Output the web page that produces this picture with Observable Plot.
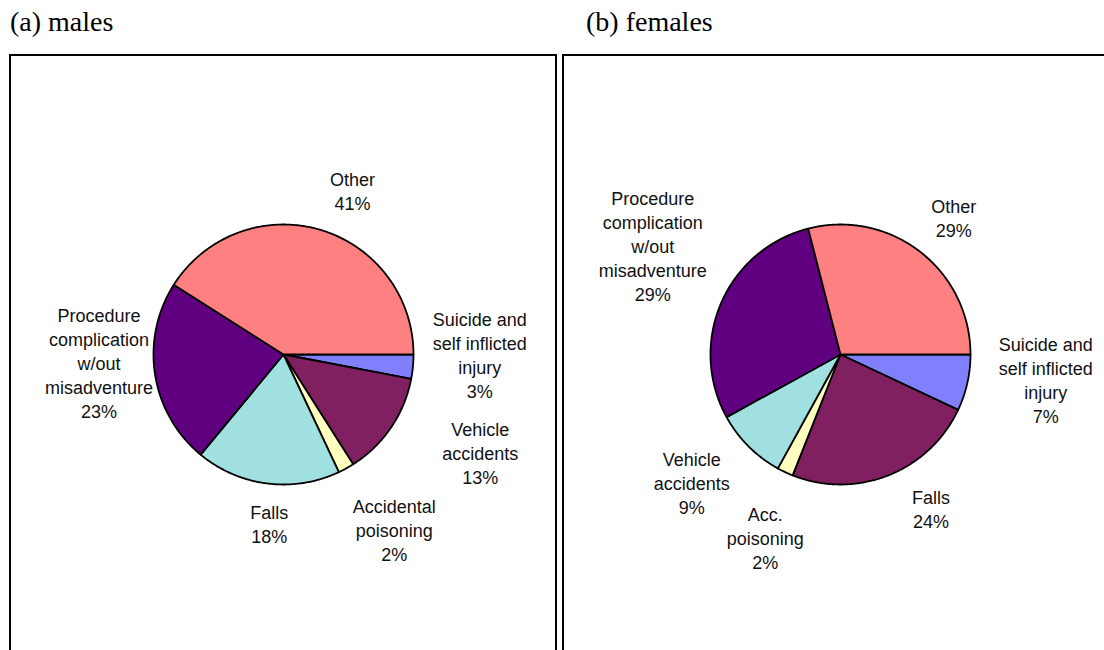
<!DOCTYPE html>
<html>
<head>
<meta charset="utf-8">
<script src="https://cdn.jsdelivr.net/npm/d3@7"></script>
<script src="https://cdn.jsdelivr.net/npm/@observablehq/plot@0.6"></script>
<style>
  html, body { margin: 0; padding: 0; background: #fff; }
  #wrap { position: relative; width: 1104px; height: 650px; overflow: hidden; background: #fff; }
  .title { position: absolute; font-family: "Liberation Serif", "Times New Roman", serif; font-size: 28px; line-height: 28px; color: #000; white-space: nowrap; }
  .panel { position: absolute; }
  .box { position: absolute; border: 2px solid #000; box-sizing: border-box; pointer-events: none; }
</style>
</head>
<body>
<div id="wrap">
  <div class="title" style="left:10px; top:8px;">(a) males</div>
  <div class="title" style="left:586px; top:8px;">(b) females</div>
  <div class="panel" id="males" style="left:9px; top:54px;"></div>
  <div class="panel" id="females" style="left:562px; top:54px;"></div>
  <div class="box" style="left:9px; top:54px; width:548px; height:640px;"></div>
  <div class="box" style="left:562px; top:54px; width:560px; height:640px;"></div>
</div>
<script>
// ---- data ----
const maleCategories = ["Suicide and\nself inflicted\ninjury", "Vehicle\naccidents", "Accidental\npoisoning", "Falls", "Procedure\ncomplication\nw/out\nmisadventure", "Other"];
const maleValues = [3, 13, 2, 18, 23, 41];

const femaleCategories = ["Suicide and\nself inflicted\ninjury", "Falls", "Acc.\npoisoning", "Vehicle\naccidents", "Procedure\ncomplication\nw/out\nmisadventure", "Other"];
const femaleValues = [7, 24, 2, 9, 29, 29];

// slice colours by position (clockwise from 3 o'clock)
const sliceColors = ["#8080FF", "#802060", "#FFFFC0", "#A0E0E0", "#600080", "#FF8080"];

// label placement: [angle in degrees clockwise from 3 o'clock, distance in pie radii]
const maleLabelPlacement = [[0, 1.51], [26.4, 1.69], [57.6, 1.59], [94.8, 1.30], [177.5, 1.42], [292.8, 1.37]];
const femaleLabelPlacement = [[7, 1.59], [59.5, 1.37], [112.4, 1.52], [139.3, 1.51], [210.1, 1.67], [309.5, 1.37]];

function pieChart({values, categories, placement, width, height, cx, cy, radius}) {
  const total = d3.sum(values);
  let cum = 0;
  const slices = values.map((v, i) => {
    const a0 = cum / total * 2 * Math.PI;
    cum += v;
    const a1 = cum / total * 2 * Math.PI;
    return {i, a0, a1};
  });
  const slicePoints = (s) => {
    const n = Math.max(2, Math.ceil((s.a1 - s.a0) / (Math.PI / 360)));
    const pts = [{x: 0, y: 0}];
    for (let k = 0; k <= n; k++) {
      const a = s.a0 + (s.a1 - s.a0) * k / n;
      pts.push({x: Math.cos(a), y: -Math.sin(a)});
    }
    pts.push({x: 0, y: 0});
    return pts;
  };
  const labels = categories.map((c, i) => {
    const [deg, r] = placement[i];
    const a = deg * Math.PI / 180;
    return {x: r * Math.cos(a), y: -r * Math.sin(a), text: c + "\n" + values[i] + "%"};
  });
  return Plot.plot({
    width, height,
    margin: 0,
    x: {domain: [-cx / radius, (width - cx) / radius], range: [0, width], axis: null},
    y: {domain: [-(height - cy) / radius, cy / radius], range: [height, 0], axis: null},
    style: {background: "transparent", overflow: "visible"},
    marks: [
      ...slices.map(s => Plot.line(slicePoints(s), {
        x: "x", y: "y", fill: sliceColors[s.i], stroke: "#000",
        strokeWidth: 1.8, strokeLinejoin: "round", curve: "linear"
      })),
      Plot.text(labels, {
        x: "x", y: "y", text: "text",
        fontSize: 18, lineHeight: 1.333,
        fontFamily: "'Liberation Sans', Arial, sans-serif",
        fill: "#111", textAnchor: "middle", lineAnchor: "middle"
      })
    ]
  });
}

document.getElementById("males").appendChild(pieChart({
  values: maleValues, categories: maleCategories, placement: maleLabelPlacement,
  width: 548, height: 596, cx: 274, cy: 300, radius: 130
}));
document.getElementById("females").appendChild(pieChart({
  values: femaleValues, categories: femaleCategories, placement: femaleLabelPlacement,
  width: 542, height: 596, cx: 278, cy: 300, radius: 130
}));
</script>
</body>
</html>
